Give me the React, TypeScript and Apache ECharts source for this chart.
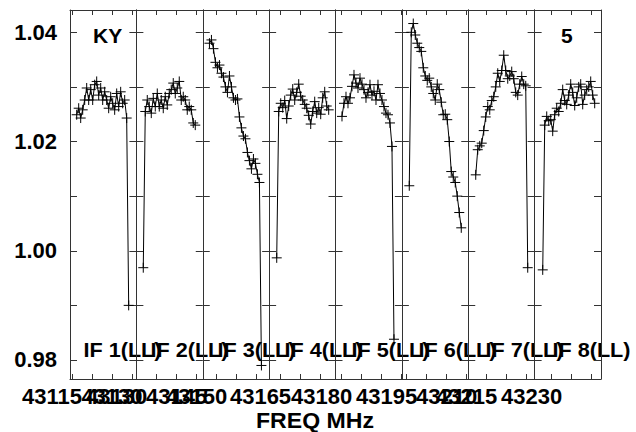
import React, { useEffect, useRef } from "react";
import * as echarts from "echarts";

// Panel (IF) frequency axes, MHz
const panelMin = [43114.5, 43129.925, 43146.525, 43162.15, 43178.45, 43193.8, 43210.4, 43225.725];
const panelSpan = 16.6;
const freqLabels = [[43115, 43130], [43130, 43145], [43150], [43165], [43180], [43195, 43210], [43215], [43230]];
// first channel frequency per IF, channel step (MHz)
const chanStart = [43116.175, 43131.65, 43148.2, 43164.05, 43180.075, 43195.65, 43212.275, 43227.75];
const chanStep = 0.5;

const yTicks = [0.98, 0.99, 1.0, 1.01, 1.02, 1.03, 1.04];
const yLabels = [0.98, 1.0, 1.02, 1.04];
const ifNames = ["IF 1(LL)", "IF 2(LL)", "IF 3(LL)", "IF 4(LL)", "IF 5(LL)", "IF 6(LL)", "IF 7(LL)", "IF 8(LL)"];

const if1 = [1.0249, 1.0261, 1.0243, 1.0258, 1.0276, 1.0298, 1.0276, 1.0295, 1.0276, 1.0304, 1.031, 1.0285, 1.0298, 1.0276, 1.0291, 1.0276, 1.0261, 1.0282, 1.027, 1.0258, 1.0288, 1.0264, 1.0291, 1.027, 1.0276, 1.0243, 0.990];
const if2 = [0.9969, 1.0255, 1.0276, 1.0264, 1.0252, 1.0279, 1.0264, 1.0288, 1.0264, 1.0276, 1.0261, 1.0282, 1.0267, 1.0288, 1.0295, 1.0307, 1.0288, 1.0298, 1.031, 1.0276, 1.0282, 1.0276, 1.0258, 1.0264, 1.0258, 1.0234, 1.0230];
const if3 = [1.038, 1.0386, 1.037, 1.0345, 1.0335, 1.034, 1.0325, 1.0318, 1.03, 1.029, 1.032, 1.03, 1.028, 1.0276, 1.0278, 1.0245, 1.0225, 1.021, 1.0205, 1.018, 1.0165, 1.015, 1.0168, 1.016, 1.014, 1.0125, 0.979];
const if4 = [0.9987, 1.0255, 1.027, 1.0262, 1.0275, 1.0242, 1.0265, 1.0285, 1.0296, 1.0276, 1.029, 1.0305, 1.0283, 1.0276, 1.0268, 1.0261, 1.0248, 1.0232, 1.0255, 1.0273, 1.0252, 1.0262, 1.025, 1.028, 1.0291, 1.0265, 1.0258];
const if5 = [1.0246, 1.027, 1.0282, 1.027, 1.028, 1.0301, 1.0322, 1.0307, 1.0298, 1.0316, 1.0305, 1.0295, 1.028, 1.029, 1.0304, 1.0285, 1.0292, 1.0276, 1.0304, 1.0288, 1.0276, 1.0264, 1.0252, 1.0249, 1.0234, 1.0191, 0.9838];
const if6 = [1.0119, 1.04, 1.0416, 1.0395, 1.038, 1.0372, 1.0365, 1.0335, 1.032, 1.0312, 1.0316, 1.03, 1.0288, 1.0276, 1.0305, 1.0295, 1.0272, 1.0249, 1.025, 1.024, 1.02, 1.0145, 1.0135, 1.0125, 1.01, 1.007, 1.0042];
const if7 = [1.0139, 1.0185, 1.0192, 1.0197, 1.022, 1.0245, 1.0264, 1.0258, 1.0275, 1.0282, 1.03, 1.0325, 1.031, 1.033, 1.0358, 1.033, 1.0315, 1.032, 1.0328, 1.0315, 1.029, 1.0285, 1.0305, 1.0319, 1.0305, 1.0302, 0.9969];
const if8 = [0.9965, 1.023, 1.0246, 1.0238, 1.024, 1.0219, 1.0249, 1.0261, 1.0255, 1.027, 1.0295, 1.0275, 1.0268, 1.0285, 1.0305, 1.029, 1.0266, 1.028, 1.03, 1.0305, 1.0268, 1.0285, 1.0295, 1.03, 1.031, 1.0285, 1.027];
const ifValues = [if1, if2, if3, if4, if5, if6, if7, if8];

const Y_MIN = 0.97652;
const Y_MAX = 1.04408;

const GRID_LEFT = 70;
const GRID_W = 66.375;
const GRID_TOP = 10;
const GRID_H = 369;
const FONT = '"Liberation Sans", Arial, sans-serif';
const FRAME = "#333";

function tickList(min: number, max: number): number[] {
  const out: number[] = [];
  for (let v = Math.ceil(min / 5) * 5; v <= max; v += 5) out.push(v);
  return out;
}

export default function App() {
  const ref = useRef<HTMLDivElement>(null);
  useEffect(() => {
    if (!ref.current) return;
    const chart = echarts.init(ref.current, undefined, { renderer: "svg" });
    const grids: any[] = [];
    const xAxes: any[] = [];
    const yAxes: any[] = [];
    const series: any[] = [];
    const graphics: any[] = [];
    const lineStyle = { color: FRAME, width: 1 };
    for (let i = 0; i < 8; i++) {
      const left = GRID_LEFT + i * GRID_W;
      const g = grids.length;
      grids.push({ left, width: GRID_W, top: GRID_TOP, height: GRID_H, show: false });
      const min = panelMin[i];
      const max = panelMin[i] + panelSpan;
      const ticks = tickList(min, max);
      const xb = xAxes.length;
      xAxes.push({
        type: "value", gridIndex: g, position: "bottom", min, max,
        axisLine: { show: true, onZero: false, lineStyle },
        axisTick: { show: true, inside: true, length: 5, customValues: ticks, lineStyle },
        axisLabel: { show: false },
        splitLine: { show: false },
      });
      xAxes.push({
        type: "value", gridIndex: g, position: "top", min, max,
        axisLine: { show: true, onZero: false, lineStyle },
        axisTick: { show: true, inside: true, length: 5, customValues: ticks, lineStyle },
        axisLabel: { show: false },
        splitLine: { show: false },
      });
      const yl = yAxes.length;
      yAxes.push({
        type: "value", gridIndex: g, position: "left", min: Y_MIN, max: Y_MAX,
        axisLine: { show: true, onZero: false, lineStyle },
        axisTick: { show: true, inside: true, length: 7, customValues: yTicks, lineStyle },
        axisLabel: i === 0
          ? { show: true, customValues: yLabels, formatter: (v: number) => v.toFixed(2), color: "#000", fontSize: 22, fontWeight: "bold", fontFamily: FONT, margin: 13, showMinLabel: true, showMaxLabel: true }
          : { show: false },
        splitLine: { show: false },
      });
      yAxes.push({
        type: "value", gridIndex: g, position: "right", min: Y_MIN, max: Y_MAX,
        axisLine: { show: true, onZero: false, lineStyle },
        axisTick: { show: true, inside: true, length: 7, customValues: yTicks, lineStyle },
        axisLabel: { show: false },
        splitLine: { show: false },
      });
      series.push({
        type: "line",
        xAxisIndex: xb,
        yAxisIndex: yl,
        data: ifValues[i].map((v, k) => [chanStart[i] + k * chanStep, v]),
        symbol: "path://M5 0V10M0 5H10",
        symbolSize: 10,
        showSymbol: true,
        lineStyle: { color: "#000", width: 1 },
        itemStyle: { color: "none", borderColor: "#000", borderWidth: 1 },
        clip: false,
        silent: true,
      });
      // one overlay grid per frequency label, so overlapping labels are all kept
      freqLabels[i].forEach((f) => {
        const lg = grids.length;
        grids.push({ left, width: GRID_W, top: GRID_TOP, height: GRID_H, show: false });
        xAxes.push({
          type: "value", gridIndex: lg, position: "bottom", min, max,
          axisLine: { show: false }, axisTick: { show: false }, splitLine: { show: false },
          axisLabel: {
            show: true, customValues: [f], formatter: (v: number) => String(Math.round(v)),
            color: "#000", fontSize: 22, fontWeight: "bold", fontFamily: FONT, margin: 6,
            showMinLabel: true, showMaxLabel: true, padding: [0, 40, 0, 0],
          },
        });
        yAxes.push({ type: "value", gridIndex: lg, show: false, min: Y_MIN, max: Y_MAX });
      });
      graphics.push({
        type: "text", x: 83.5 + i * 67, y: 350, scaleX: 1.03,
        style: { text: ifNames[i], font: `bold 21px ${FONT}`, fill: "#000", verticalAlign: "middle", align: "left" },
      });
    }
    graphics.push({
      type: "text", x: 93, y: 35,
      style: { text: "KY", font: `bold 21px ${FONT}`, fill: "#000", verticalAlign: "middle", align: "left" },
    });
    graphics.push({
      type: "text", x: 561, y: 35,
      style: { text: "5", font: `bold 21px ${FONT}`, fill: "#000", verticalAlign: "middle", align: "left" },
    });
    graphics.push({
      type: "text", x: 315, y: 421, scaleX: 1.05, originX: 0,
      style: { text: "FREQ MHz", font: `bold 22px ${FONT}`, fill: "#000", verticalAlign: "middle", align: "center" },
    });
    chart.setOption({
      animation: false,
      backgroundColor: "#fff",
      grid: grids,
      xAxis: xAxes,
      yAxis: yAxes,
      series,
      graphic: graphics,
    });
    return () => chart.dispose();
  }, []);
  return <div ref={ref} style={{ position: "fixed", left: 0, top: 0, width: 636, height: 432 }} />;
}
